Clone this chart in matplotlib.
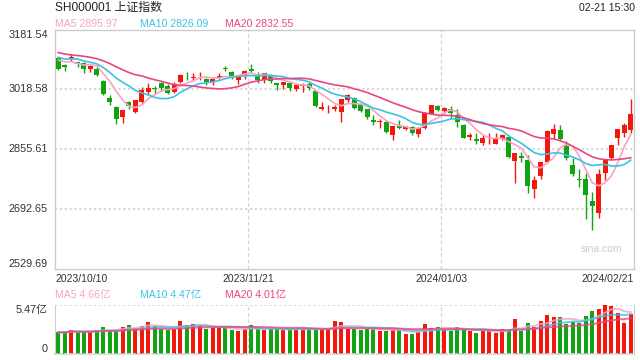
import numpy as np
import pandas as pd
import matplotlib
matplotlib.use("Agg")
import matplotlib.pyplot as plt

plt.rcParams['font.family'] = ['Liberation Sans', 'Noto Sans CJK SC']

# closes before the first visible day (needed for the moving averages)
prior_close = [3154.37, 3158.08, 3122.35, 3116.72, 3137.06, 3134.93, 3122.63, 3126.55,
               3117.74, 3125.93, 3124.25, 3108.57, 3084.70, 3132.43, 3115.61, 3102.27,
               3107.32, 3110.48, 3096.92]

opens = [3103, 3086, 3104, 3093, 3090, 3074, 3074, 3042, 2995, 2970,
         2943, 2984, 2958, 2983, 3012, 3022, 3036, 3029, 3011, 3040,
         3059, 3050, 3051, 3048, 3040, 3050, 3078, 3065, 3044, 3058,
         3074, 3056, 3045, 3058, 3035, 3030, 3036, 3020, 3027, 3032,
         3014, 2966, 2964, 2964, 2956, 2990, 2995, 2979, 2965, 2935,
         2929, 2931, 2895, 2920, 2910, 2916, 2897, 2913, 2952, 2972,
         2960, 2966, 2949, 2922, 2888, 2883, 2872, 2880, 2871, 2884,
         2890, 2823, 2836, 2825, 2747, 2782, 2822, 2898, 2909, 2865,
         2813, 2775, 2775, 2716, 2682, 2791, 2832, 2886, 2901, 2907]
highs = [3107, 3089, 3115, 3097, 3092, 3086, 3084, 3044, 3004, 2972,
         2963, 2988, 2990, 3026, 3035, 3028, 3040, 3032, 3038, 3061,
         3066, 3062, 3065, 3050, 3050, 3062, 3082, 3068, 3057, 3071,
         3087, 3066, 3064, 3060, 3036, 3040, 3038, 3032, 3036, 3040,
         3018, 2985, 2976, 2976, 2993, 3005, 2997, 2981, 2966, 2949,
         2937, 2933, 2920, 2934, 2920, 2918, 2916, 2958, 2976, 2976,
         2970, 2972, 2966, 2925, 2900, 2900, 2895, 2901, 2901, 2896,
         2893, 2846, 2849, 2841, 2784, 2822, 2907, 2925, 2922, 2879,
         2831, 2802, 2791, 2738, 2802, 2830, 2866, 2911, 2927, 2992]
lows = [3072, 3068, 3097, 3080, 3062, 3065, 3055, 3002, 2975, 2923,
        2928, 2965, 2955, 2980, 3005, 3005, 3015, 3005, 3008, 3037,
        3043, 3044, 3045, 3030, 3030, 3046, 3068, 3048, 3034, 3048,
        3062, 3036, 3036, 3037, 3016, 3020, 3015, 3015, 3012, 3018,
        2970, 2962, 2953, 2960, 2930, 2985, 2965, 2956, 2939, 2922,
        2913, 2900, 2882, 2910, 2908, 2895, 2890, 2910, 2952, 2960,
        2955, 2942, 2916, 2886, 2880, 2870, 2868, 2871, 2870, 2882,
        2832, 2765, 2822, 2737, 2723, 2776, 2820, 2883, 2880, 2827,
        2782, 2753, 2666, 2635, 2669, 2771, 2828, 2868, 2890, 2900]
closes = [3075.24, 3078.96, 3107.90, 3088.10, 3073.81, 3083.50, 3058.71, 3005.39, 2983.06, 2939.29,
          2962.24, 2974.11, 2988.30, 3017.78, 3021.55, 3018.77, 3023.08, 3009.41, 3030.80, 3058.41,
          3057.27, 3052.37, 3053.28, 3038.97, 3046.53, 3056.07, 3072.83, 3050.93, 3054.37, 3068.32,
          3067.93, 3043.61, 3061.86, 3040.97, 3031.70, 3038.55, 3021.69, 3029.67, 3031.64, 3022.91,
          2972.30, 2969.56, 2966.21, 2969.56, 2991.44, 3003.39, 2968.93, 2958.99, 2942.56, 2930.80,
          2932.39, 2902.11, 2918.72, 2914.78, 2918.81, 2898.87, 2914.61, 2954.70, 2974.93, 2962.28,
          2967.25, 2954.35, 2929.18, 2887.54, 2893.25, 2877.70, 2886.65, 2881.98, 2886.29, 2893.99,
          2833.62, 2845.78, 2832.28, 2756.34, 2770.98, 2820.77, 2906.11, 2910.22, 2883.36, 2830.53,
          2788.55, 2770.74, 2730.15, 2702.19, 2789.49, 2829.70, 2865.90, 2910.54, 2922.73, 2950.96]
# volume, 亿
volumes = [2.42, 2.42, 2.68, 2.48, 2.48, 2.48, 2.68, 3.05, 2.55, 2.60,
           3.05, 3.27, 2.94, 3.13, 3.61, 3.13, 2.79, 2.68, 2.75, 3.72,
           3.27, 3.35, 3.16, 2.79, 2.94, 2.94, 2.94, 2.68, 2.60, 2.79,
           3.24, 2.79, 2.68, 2.79, 2.83, 2.68, 2.75, 2.75, 2.87, 2.75,
           2.79, 2.79, 2.79, 3.68, 3.57, 2.79, 2.79, 2.68, 2.79, 2.87,
           2.60, 2.60, 2.68, 2.68, 2.23, 2.23, 2.48, 3.35, 2.87, 3.02,
           2.79, 2.60, 3.02, 2.79, 2.60, 2.38, 2.60, 2.60, 2.38, 2.79,
           2.60, 3.91, 2.60, 3.50, 3.05, 3.68, 4.35, 4.13, 4.13, 3.35,
           3.61, 3.50, 4.24, 4.80, 5.02, 5.47, 5.36, 4.54, 3.50, 4.47]

# values shown in the legend lines
ma_periods = [5, 10, 20]
ma_legend = [2895.97, 2826.09, 2832.55]
vma_legend = [4.66, 4.47, 4.01]

date_labels = ['2023/10/10', '2023/11/21', '2024/01/03', '2024/02/21']
date_pos = [0, 30, 60, 90]
y_ticks = [3181.54, 3018.58, 2855.61, 2692.65, 2529.69]
vol_max = 5.47

RED = '#f2180c'
GREEN = '#12a312'
MA_COLORS = {5: '#f9a3c2', 10: '#3cc2e4', 20: '#ec4680'}
GRID = '#d4d4d4'
W, H = 640, 360

o = np.array(opens, float)
h = np.array(highs, float)
l = np.array(lows, float)
c = np.array(closes, float)
v = np.array(volumes, float)
n = len(c)
x = np.arange(n) + 0.5
col = np.where(c >= o, RED, GREEN)

full = pd.Series(prior_close + closes)
ma = {k: full.rolling(k).mean().values[len(prior_close):] for k in ma_periods}
vs = pd.Series(volumes)
vma = {k: vs.rolling(k, min_periods=1).mean().values for k in ma_periods}


def fx(px):
    return px / W


def fy(py):
    return 1 - py / H


fig = plt.figure(figsize=(6.4, 3.6), dpi=100)
ax = fig.add_axes([fx(55), fy(269), fx(579), 239.5 / H])
axv = fig.add_axes([fx(55), fy(354), fx(579), 49 / H])

# price panel
ax.set_xlim(0, n)
ax.set_ylim(y_ticks[-1], y_ticks[0])
for yv in y_ticks[1:-1]:
    ax.axhline(yv, color=GRID, lw=1.3, ls=(0, (1.2, 1.5)), zorder=0)
for xp in date_pos[1:-1]:
    ax.axvline(xp, color=GRID, lw=0.9, ls=(0, (3, 2)), zorder=0)

ax.vlines(x, l, h, colors=col, lw=1, zorder=2)
body = np.maximum(np.abs(c - o), 1.2)
ax.bar(x, body, bottom=np.minimum(o, c), width=0.78, color=col, lw=0, zorder=3)
for k in ma_periods:
    ax.plot(x, ma[k], color=MA_COLORS[k], lw=1.2, zorder=4)

for sp in ax.spines.values():
    sp.set_color('#cccccc')
    sp.set_linewidth(1)
ax.set_xticks([])
ax.set_yticks([])

# y labels
ytr = ax.get_yaxis_transform()
ax.text(-0.012, y_ticks[0], f'{y_ticks[0]:.2f}', transform=ytr,
        ha='right', va='top', fontsize=7.8, color='#333333')
for yv in y_ticks[1:-1]:
    ax.text(-0.012, yv, f'{yv:.2f}', transform=ytr,
            ha='right', va='center', fontsize=7.8, color='#333333')
ax.text(-0.012, y_ticks[-1], f'{y_ticks[-1]:.2f}', transform=ytr,
        ha='right', va='bottom', fontsize=7.8, color='#333333')

# date labels
aligns = ['left', 'center', 'center', 'right']
for lab, xp, al in zip(date_labels, date_pos, aligns):
    fig.text(fx(55 + xp * 579 / n), fy(279), lab, ha=al, va='center',
             fontsize=7.5, color='#333333')

fig.text(fx(622), fy(249), 'sina.com', ha='right', va='center', fontsize=7.5, color='#cccccc')

# headers
fig.text(fx(55), fy(8), 'SH000001 上证指数', ha='left', va='center', fontsize=8.6, color='#222222')
fig.text(fx(635), fy(8), '02-21 15:30', ha='right', va='center', fontsize=7.6, color='#222222')
for k, val, vval, xp in zip(ma_periods, ma_legend, vma_legend, (55, 140, 225)):
    fig.text(fx(xp), fy(24), f'MA{k} {val:.2f}', ha='left', va='center',
             fontsize=7.6, color=MA_COLORS[k])
    fig.text(fx(xp), fy(295), f'MA{k} {vval:.2f}亿', ha='left', va='center',
             fontsize=7.6, color=MA_COLORS[k])

# volume panel
axv.set_xlim(0, n)
axv.set_ylim(0, vol_max)
axv.bar(x, v, width=0.62, color=col, lw=0, zorder=2)
for k in ma_periods:
    axv.plot(x, vma[k], color=MA_COLORS[k], lw=1.4, alpha=0.8, zorder=3)
axv.axhline(vol_max, color=GRID, lw=1.3, ls=(0, (1.2, 1.5)), zorder=0)
for xp in date_pos[1:-1]:
    axv.axvline(xp, color=GRID, lw=0.9, ls=(0, (3, 2)), zorder=0)
axv.spines['top'].set_visible(False)
axv.spines['bottom'].set_color(GRID)
axv.spines['bottom'].set_linestyle((0, (1.2, 1.5)))
axv.spines['bottom'].set_linewidth(1.3)
for s in ('left', 'right'):
    axv.spines[s].set_color('#cccccc')
axv.set_xticks([])
axv.set_yticks([])
axv.text(-0.012, vol_max, f'{vol_max:.2f}亿', transform=axv.get_yaxis_transform(),
         ha='right', va='top', fontsize=7.8, color='#333333')
axv.text(-0.012, 0, '0', transform=axv.get_yaxis_transform(),
         ha='right', va='bottom', fontsize=7.8, color='#333333')

fig.savefig('out.png', dpi=100)
